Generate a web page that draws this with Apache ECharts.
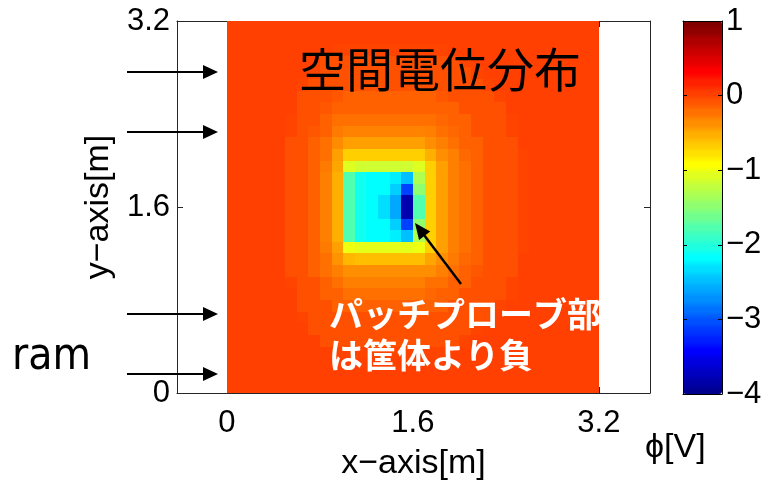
<!DOCTYPE html>
<html><head><meta charset="utf-8">
<script src="https://cdn.jsdelivr.net/npm/echarts@6/dist/echarts.min.js"></script>
<style>html,body{margin:0;padding:0;background:#fff}#c{width:766px;height:485px}</style>
</head><body><div id="c"></div>
<script>
// ---- data ----
const xCells = [0,0.1,0.2,0.3,0.4,0.5,0.6,0.7,0.8,0.9,1.0,1.1,1.2,1.3,1.4,1.5,1.6,1.7,1.8,1.9,2.0,2.1,2.2,2.3,2.4,2.5,2.6,2.7,2.8,2.9,3.0,3.1];
const yCells = [3.1,3.0,2.9,2.8,2.7,2.6,2.5,2.4,2.3,2.2,2.1,2.0,1.9,1.8,1.7,1.6,1.5,1.4,1.3,1.2,1.1,1.0,0.9,0.8,0.7,0.6,0.5,0.4,0.3,0.2,0.1,0];
const cellSize = 0.1;
// phi[row][col]: row 0 = top (y 3.1-3.2), col 0 = left (x 0-0.1), values in V
const phi = [
[0,0,0,0,0,0,0,0,0,0,0,0,0,0,0,0,0,0,0,0,0,0,0,0,0,0,0,0,0,0,0,0],
[0,0,0,0,0,0,0,0,0,0,0,0,0,0,0,0,0,0,0,0,0,0,0,0,0,0,0,0,0,0,0,0],
[0,0,0,0,0,0,0,0,-0.01,-0.02,-0.02,-0.02,-0.02,-0.02,-0.02,-0.02,-0.02,-0.02,-0.02,-0.01,0,0,0,0,0,0,0,0,0,0,0,0],
[0,0,0,0,0,0,0,-0.01,-0.03,-0.03,-0.04,-0.04,-0.04,-0.04,-0.04,-0.04,-0.04,-0.04,-0.03,-0.03,-0.02,-0.01,0,0,0,0,0,0,0,0,0,0],
[0,0,0,0,0,0,-0.01,-0.02,-0.04,-0.05,-0.06,-0.06,-0.06,-0.06,-0.06,-0.06,-0.06,-0.06,-0.05,-0.04,-0.03,-0.02,-0.01,0,0,0,0,0,0,0,0,0],
[0,0,0,0,0,0,-0.02,-0.04,-0.06,-0.07,-0.08,-0.08,-0.08,-0.08,-0.08,-0.08,-0.08,-0.08,-0.07,-0.06,-0.05,-0.03,-0.02,-0.01,0,0,0,0,0,0,0,0],
[0,0,0,0,0,0,-0.03,-0.05,-0.08,-0.1,-0.12,-0.12,-0.12,-0.12,-0.12,-0.12,-0.12,-0.11,-0.1,-0.08,-0.06,-0.05,-0.03,-0.02,0,0,0,0,0,0,0,0],
[0,0,0,0,0,-0.01,-0.04,-0.06,-0.1,-0.14,-0.16,-0.16,-0.16,-0.16,-0.16,-0.16,-0.16,-0.15,-0.13,-0.11,-0.08,-0.06,-0.04,-0.03,-0.01,0,0,0,0,0,0,0],
[0,0,0,0,0,-0.02,-0.05,-0.08,-0.13,-0.19,-0.23,-0.23,-0.23,-0.23,-0.23,-0.23,-0.23,-0.21,-0.18,-0.14,-0.11,-0.08,-0.05,-0.03,-0.02,0,0,0,0,0,0,0],
[0,0,0,0,0,-0.02,-0.05,-0.1,-0.17,-0.26,-0.33,-0.33,-0.33,-0.33,-0.33,-0.33,-0.33,-0.29,-0.24,-0.18,-0.13,-0.09,-0.06,-0.04,-0.02,-0.01,0,0,0,0,0,0],
[0,0,0,0,0,-0.03,-0.06,-0.12,-0.21,-0.34,-0.46,-0.46,-0.46,-0.46,-0.46,-0.46,-0.46,-0.4,-0.31,-0.23,-0.16,-0.11,-0.07,-0.05,-0.03,-0.01,0,0,0,0,0,0],
[0,0,0,0,0,-0.03,-0.07,-0.13,-0.24,-0.43,-0.66,-0.67,-0.67,-0.67,-0.67,-0.67,-0.66,-0.53,-0.39,-0.27,-0.18,-0.12,-0.08,-0.05,-0.03,-0.02,0,0,0,0,0,0],
[0,0,0,0,0,-0.03,-0.07,-0.14,-0.26,-0.49,-1.07,-1.14,-1.14,-1.14,-1.14,-1.14,-1.1,-0.68,-0.44,-0.29,-0.2,-0.13,-0.09,-0.06,-0.03,-0.02,0,0,0,0,0,0],
[0,0,0,0,0,-0.03,-0.07,-0.14,-0.27,-0.5,-1.8,-2.1,-2.15,-2.2,-2.25,-2.5,-1.3,-0.72,-0.45,-0.3,-0.2,-0.13,-0.09,-0.06,-0.03,-0.02,0,0,0,0,0,0],
[0,0,0,0,0,-0.03,-0.07,-0.14,-0.27,-0.5,-1.8,-2.1,-2.15,-2.2,-2.4,-3.1,-1.5,-0.72,-0.45,-0.3,-0.2,-0.13,-0.09,-0.06,-0.03,-0.02,0,0,0,0,0,0],
[0,0,0,0,0,-0.03,-0.07,-0.14,-0.27,-0.5,-1.8,-2.1,-2.2,-2.3,-2.6,-3.8,-1.8,-0.72,-0.45,-0.3,-0.2,-0.13,-0.09,-0.06,-0.03,-0.02,0,0,0,0,0,0],
[0,0,0,0,0,-0.03,-0.07,-0.14,-0.27,-0.5,-1.8,-2.1,-2.2,-2.3,-2.6,-3.8,-1.8,-0.72,-0.45,-0.3,-0.2,-0.13,-0.09,-0.06,-0.03,-0.02,0,0,0,0,0,0],
[0,0,0,0,0,-0.03,-0.07,-0.14,-0.27,-0.5,-1.8,-2.1,-2.15,-2.2,-2.4,-3.1,-1.5,-0.72,-0.45,-0.3,-0.2,-0.13,-0.09,-0.06,-0.03,-0.02,0,0,0,0,0,0],
[0,0,0,0,0,-0.03,-0.07,-0.14,-0.27,-0.5,-1.8,-2.1,-2.15,-2.2,-2.25,-2.5,-1.3,-0.72,-0.45,-0.3,-0.2,-0.13,-0.09,-0.06,-0.03,-0.02,0,0,0,0,0,0],
[0,0,0,0,0,-0.03,-0.07,-0.13,-0.26,-0.48,-0.99,-1.04,-1.04,-1.04,-1.04,-1.04,-1.02,-0.66,-0.43,-0.29,-0.19,-0.13,-0.09,-0.06,-0.03,-0.02,0,0,0,0,0,0],
[0,0,0,0,0,-0.03,-0.07,-0.13,-0.23,-0.41,-0.57,-0.59,-0.59,-0.59,-0.59,-0.59,-0.58,-0.49,-0.37,-0.26,-0.18,-0.12,-0.08,-0.05,-0.03,-0.01,0,0,0,0,0,0],
[0,0,0,0,0,-0.03,-0.06,-0.11,-0.19,-0.31,-0.4,-0.4,-0.4,-0.4,-0.4,-0.4,-0.4,-0.36,-0.28,-0.21,-0.15,-0.1,-0.07,-0.05,-0.03,-0.01,0,0,0,0,0,0],
[0,0,0,0,0,-0.02,-0.05,-0.09,-0.15,-0.23,-0.27,-0.27,-0.27,-0.27,-0.27,-0.27,-0.27,-0.25,-0.21,-0.16,-0.12,-0.09,-0.06,-0.04,-0.02,0,0,0,0,0,0,0],
[0,0,0,0,0,-0.01,-0.04,-0.07,-0.11,-0.16,-0.19,-0.19,-0.19,-0.19,-0.19,-0.19,-0.19,-0.18,-0.15,-0.12,-0.09,-0.07,-0.05,-0.03,-0.02,0,0,0,0,0,0,0],
[0,0,0,0,0,-0.01,-0.03,-0.06,-0.08,-0.11,-0.13,-0.13,-0.13,-0.13,-0.13,-0.13,-0.13,-0.12,-0.11,-0.09,-0.07,-0.05,-0.04,-0.02,-0.01,0,0,0,0,0,0,0],
[0,0,0,0,0,0,-0.02,-0.04,-0.06,-0.08,-0.09,-0.09,-0.09,-0.09,-0.09,-0.09,-0.09,-0.08,-0.07,-0.06,-0.05,-0.04,-0.03,-0.01,0,0,0,0,0,0,0,0],
[0,0,0,0,0,0,-0.01,-0.03,-0.04,-0.05,-0.06,-0.06,-0.06,-0.06,-0.06,-0.06,-0.06,-0.06,-0.05,-0.04,-0.03,-0.02,-0.01,0,0,0,0,0,0,0,0,0],
[0,0,0,0,0,0,0,-0.01,-0.03,-0.03,-0.04,-0.04,-0.04,-0.04,-0.04,-0.04,-0.04,-0.04,-0.03,-0.03,-0.02,-0.01,0,0,0,0,0,0,0,0,0,0],
[0,0,0,0,0,0,0,0,-0.01,-0.02,-0.02,-0.02,-0.02,-0.02,-0.02,-0.02,-0.02,-0.02,-0.02,-0.01,0,0,0,0,0,0,0,0,0,0,0,0],
[0,0,0,0,0,0,0,0,0,0,0,0,0,0,0,0,0,0,0,0,0,0,0,0,0,0,0,0,0,0,0,0],
[0,0,0,0,0,0,0,0,0,0,0,0,0,0,0,0,0,0,0,0,0,0,0,0,0,0,0,0,0,0,0,0],
[0,0,0,0,0,0,0,0,0,0,0,0,0,0,0,0,0,0,0,0,0,0,0,0,0,0,0,0,0,0,0,0]
];
const xTicks = [0, 1.6, 3.2];
const yTicks = [0, 1.6, 3.2];
const cbarMin = -4, cbarMax = 1, cbarStep = 1;
const xRange = [-0.43, 3.64];
const yRange = [0, 3.2];

// ---- MATLAB jet(64) colormap, sampled as steps ----
function jet(m){
  const n = Math.ceil(m/4), u = [];
  for (let i=1;i<=n;i++) u.push(i/n);
  for (let i=1;i<n;i++) u.push(1);
  for (let i=n;i>=1;i--) u.push(i/n);
  const g0 = Math.ceil(n/2) - (m%4===1?1:0);
  const out = []; for (let k=0;k<m;k++) out.push([0,0,0]);
  for (let i=0;i<u.length;i++){
    const gi=g0+i+1, ri=gi+n, bi=gi-n;
    if (gi>=1&&gi<=m) out[gi-1][1]=u[i];
    if (ri>=1&&ri<=m) out[ri-1][0]=u[i];
    if (bi>=1&&bi<=m) out[bi-1][2]=u[i];
  }
  return out.map(c=>'rgb('+c.map(v=>Math.round(v*255)).join(',')+')');
}
const jet64 = jet(64);
const cmap = [];
const NS = 321;
for (let s=0;s<NS;s++){ const t=s/(NS-1); cmap.push(jet64[Math.min(63, Math.floor(t*64))]); }

const data = [];
for (let r=0;r<yCells.length;r++) for (let c=0;c<xCells.length;c++) data.push([xCells[c], yCells[r], phi[r][c]]);

const FONT = "'Liberation Sans', Arial, Helvetica, sans-serif";
const AX = '#262626';
const minus = v => String(v).replace('-', '\u2212');

function arrow(x1,y1,x2,y2,head,halfW,lw){
  const dx=x2-x1, dy=y2-y1, L=Math.hypot(dx,dy), ux=dx/L, uy=dy/L;
  const bx=x2-ux*head, by=y2-uy*head;
  return {type:'group', z:100, children:[
    {type:'line', z:100, shape:{x1:x1,y1:y1,x2:bx+ux*1,y2:by+uy*1}, style:{stroke:'#000', lineWidth:lw}},
    {type:'polygon', z:100, shape:{points:[[x2,y2],[bx-uy*halfW,by+ux*halfW],[bx+uy*halfW,by-ux*halfW]]}, style:{fill:'#000'}}
  ]};
}

const chart = echarts.init(document.getElementById('c'), null, {renderer:'canvas'});
chart.setOption({
  backgroundColor:'#fff',
  animation:false,
  grid:[
    {left:177, top:21, width:473, height:372, outerBoundsMode:'none', containLabel:false},
    {left:683, top:21, width:39, height:373, outerBoundsMode:'none', containLabel:false}
  ],
  xAxis:[
    {type:'value', gridIndex:0, min:xRange[0], max:xRange[1], position:'bottom',
     axisLine:{show:true, onZero:false, lineStyle:{color:AX, width:1}},
     axisTick:{show:true, inside:true, length:6, customValues:xTicks, lineStyle:{color:AX}},
     axisLabel:{show:true, customValues:xTicks, color:'#000', fontSize:31, fontFamily:FONT, margin:15, formatter:v=>String(v)},
     splitLine:{show:false},
     name:'x\u2212axis[m]', nameLocation:'middle', nameGap:54,
     nameTextStyle:{color:'#000', fontSize:34, fontFamily:FONT}},
    {type:'value', gridIndex:0, min:xRange[0], max:xRange[1], position:'top',
     axisLine:{show:true, onZero:false, lineStyle:{color:AX, width:1}},
     axisTick:{show:true, inside:true, length:6, customValues:xTicks, lineStyle:{color:AX}},
     axisLabel:{show:false}, splitLine:{show:false}},
    {type:'value', gridIndex:1, min:0, max:1, position:'bottom', z:5,
     axisLine:{show:true, onZero:false, lineStyle:{color:'#000', width:1}},
     axisTick:{show:false}, axisLabel:{show:false}, splitLine:{show:false}},
    {type:'value', gridIndex:1, min:0, max:1, position:'top', z:5,
     axisLine:{show:true, onZero:false, lineStyle:{color:'#000', width:1}},
     axisTick:{show:false}, axisLabel:{show:false}, splitLine:{show:false}}
  ],
  yAxis:[
    {type:'value', gridIndex:0, min:yRange[0], max:yRange[1], interval:1.6, position:'left',
     axisLine:{show:true, onZero:false, lineStyle:{color:AX, width:1}},
     axisTick:{show:true, inside:true, length:6, lineStyle:{color:AX}},
     axisLabel:{show:true, color:'#000', fontSize:31, fontFamily:FONT, margin:7, padding:[6,0,0,0], formatter:v=>String(v)},
     splitLine:{show:false},
     name:'y\u2212axis[m]', nameLocation:'middle', nameRotate:90, nameGap:60,
     nameTextStyle:{color:'#000', fontSize:34, fontFamily:FONT}},
    {type:'value', gridIndex:0, min:yRange[0], max:yRange[1], interval:1.6, position:'right',
     axisLine:{show:true, onZero:false, lineStyle:{color:AX, width:1}},
     axisTick:{show:true, inside:true, length:6, lineStyle:{color:AX}},
     axisLabel:{show:false}, splitLine:{show:false}},
    {type:'value', gridIndex:1, min:cbarMin, max:cbarMax, interval:cbarStep, position:'right', z:5,
     axisLine:{show:true, onZero:false, lineStyle:{color:'#000', width:1}},
     axisTick:{show:true, inside:true, length:4, lineStyle:{color:'#000'}},
     axisLabel:{show:true, color:'#000', fontSize:31, fontFamily:FONT, margin:4, padding:[7,0,0,0], formatter:minus},
     splitLine:{show:false}},
    {type:'value', gridIndex:1, min:cbarMin, max:cbarMax, interval:cbarStep, position:'left', z:5,
     axisLine:{show:true, onZero:false, lineStyle:{color:'#000', width:1}},
     axisTick:{show:true, inside:true, length:4, lineStyle:{color:'#000'}},
     axisLabel:{show:false}, splitLine:{show:false}}
  ],
  visualMap:{
    type:'continuous', min:cbarMin, max:cbarMax, seriesIndex:0, dimension:2,
    inRange:{color:cmap}, orient:'vertical', left:683, top:21, itemWidth:39, itemHeight:373,
    padding:0, calculable:false, text:null, hoverLink:false, z:1, show:true
  },
  series:[{
    type:'custom', xAxisIndex:0, yAxisIndex:0, coordinateSystem:'cartesian2d',
    encode:{x:0, y:1}, data:data, silent:true,
    renderItem:function(params, api){
      const x0=api.value(0), y0=api.value(1);
      const a=api.coord([x0, y0+cellSize]), b=api.coord([x0+cellSize, y0]);
      const X1=Math.round(a[0]), Y1=Math.round(a[1]), X2=Math.round(b[0]), Y2=Math.round(b[1]);
      return {type:'rect', shape:{x:X1, y:Y1, width:X2-X1, height:Y2-Y1}, style:{fill:api.visual('color')}};
    }
  }],
  graphic:[
    {type:'text', z:100, x:440, y:69, style:{text:'空間電位分布', fill:'#000', font:"normal 47px 'Noto Sans CJK JP', sans-serif", align:'center', verticalAlign:'middle'}},
    {type:'text', z:100, x:329, y:314, style:{text:'パッチプローブ部', fill:'#fff', font:"bold 34px 'Noto Sans CJK JP', sans-serif", align:'left', verticalAlign:'middle'}},
    {type:'text', z:100, x:329, y:355, style:{text:'は筐体より負', fill:'#fff', font:"bold 34px 'Noto Sans CJK JP', sans-serif", align:'left', verticalAlign:'middle'}},
    {type:'text', z:100, x:12, y:358, style:{text:'ram', fill:'#000', font:"normal 44px 'DejaVu Sans Condensed', 'DejaVu Sans', sans-serif", align:'left', verticalAlign:'middle'}},
    {type:'text', z:100, x:645, y:448, style:{text:'\u03d5[V]', fill:'#000', font:"normal 34px 'Liberation Sans', Arial, sans-serif", align:'left', verticalAlign:'middle'}},
    arrow(461,284,415,223,16,7,2.5),
    arrow(127,72,218,72,15,7,2),
    arrow(127,132,218,132,15,7,2),
    arrow(127,314,218,314,15,7,2),
    arrow(127,374,218,374,15,7,2)
  ]
});
</script></body></html>
